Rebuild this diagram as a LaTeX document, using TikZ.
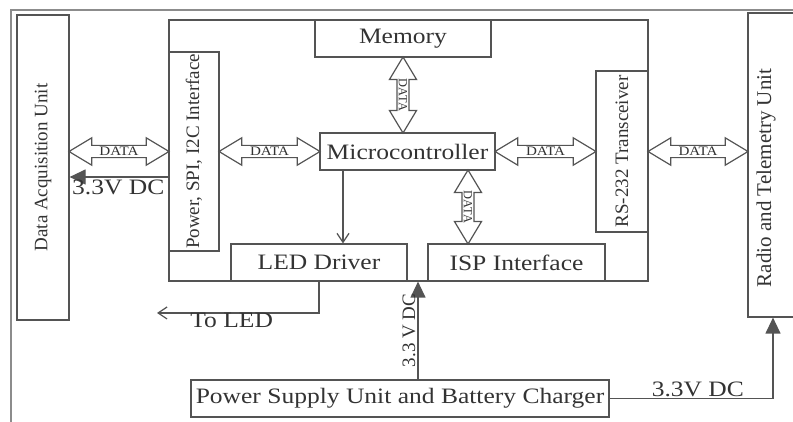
\documentclass[tikz,border=0pt]{standalone}
\usepackage{fontspec}
\setmainfont{Liberation Serif}[FakeStretch=1.16]
\newfontfamily\uprightfont{Liberation Serif}
\usepackage{tikz}
\usetikzlibrary{shapes,shapes.arrows}
\usetikzlibrary{arrows.meta,calc}
\definecolor{linegray}{gray}{0.33}
\definecolor{framegray}{gray}{0.55}
\definecolor{inkgray}{gray}{0.2}
\tikzstyle{blk}=[draw=linegray, line width=0.6pt, text=inkgray, inner sep=1pt, font=\fontsize{11}{13}\selectfont]
\tikzstyle{vblk}=[blk, rotate=90, font=\uprightfont\fontsize{9.5}{11}\selectfont]
\tikzstyle{bus}=[double arrow, draw=linegray, line width=0.6pt, text=inkgray, inner xsep=0.5pt, inner ysep=0.6pt, double arrow head extend=3.8pt, double arrow tip angle=62, font=\fontsize{6.5}{7}\selectfont]
\tikzstyle{vbus}=[bus, rotate=-90, inner xsep=0pt, font=\uprightfont\fontsize{6.2}{7}\selectfont]
\tikzstyle{pwr>}=[draw=linegray, line width=0.6pt, -{Triangle[length=8pt,width=7.5pt]}]
\tikzstyle{sig>}=[draw=linegray, line width=0.6pt, -{Straight Barb[length=4.5pt,width=6pt]}]
\tikzstyle{lbl}=[text=inkgray, inner sep=1pt, font=\fontsize{11}{13}\selectfont]

\begin{document}
\begin{tikzpicture}[x=0.5pt, y=-0.5pt]
\useasboundingbox (0,0) rectangle (793,422);
\clip (0,0) rectangle (793,422);
\draw[framegray, line width=0.8pt] (11,422) |- (793,10);
% boxes (vertical ones are turned: their south side faces right, north faces left)
\node[blk, minimum width=239.5pt, minimum height=130.5pt] (board) at (408.5,150.5) {};
\node[vblk, minimum width=152.5pt, minimum height=26pt] (daq) at (43,167.5) {Data Acquisition Unit};
\node[vblk, minimum width=99.5pt, minimum height=25pt] (psi) at (194,151.5) {Power, SPI, I2C Interface};
\node[blk, minimum width=88pt, minimum height=18.5pt] (mem) at (403,38.5) {Memory};
\node[blk, minimum width=87.5pt, minimum height=18.5pt] (mcu) at (407.5,151.5) {Microcontroller};
\node[vblk, minimum width=80.5pt, minimum height=26pt] (rs) at (622,151.5) {RS-232 Transceiver};
\node[blk, minimum width=88pt, minimum height=18.5pt] (led) at (319,262.5) {LED Driver};
\node[blk, minimum width=88.5pt, minimum height=18.5pt] (isp) at (516.5,262.5) {ISP Interface};
\node[blk, minimum width=209pt, minimum height=18.5pt] (psu) at (400,398.5) {Power Supply Unit and Battery Charger};
\node[vblk, minimum width=152pt, minimum height=26pt] (radio) at (774,165) {};
\node[vblk, draw=none, font=\uprightfont\fontsize{10.5}{12}\selectfont] (radiotxt) at (766,178) {Radio and Telemetry Unit};
% data buses
\path (daq.south |- psi.north) -- node[bus, minimum height=50pt] {DATA} (psi.north);
\path (psi.south) -- node[bus, minimum height=50.5pt] {DATA} (mcu.west);
\path (mcu.east) -- node[bus, minimum height=50.5pt] {DATA} (rs.north);
\path (rs.south) -- node[bus, minimum height=50pt] {DATA} (radio.north |- rs.south);
\path (mem.south) -- node[vbus, minimum height=38pt] {DATA} (mem.south |- mcu.north);
\coordinate (ispbus) at (468,0);
\path (mcu.south -| ispbus) -- node[vbus, minimum height=37pt] {DATA} (isp.north -| ispbus);
% led
\coordinate (ledtap) at (343,0);
\draw[sig>] (mcu.south -| ledtap) -- (led.north -| ledtap);
\coordinate (ledout) at (157,313);
\draw[sig>] (led.south) |- (ledout);
\node[lbl, anchor=north west] (toled) at (188,311) {To LED};
% supply
\coordinate (pwrtap) at (418,0);
\draw[pwr>] (psu.north -| pwrtap) -- node[lbl, rotate=90, anchor=south, font=\uprightfont\fontsize{9.5}{11}\selectfont] {3.3 V DC} (board.south -| pwrtap);
\coordinate (daqpwr) at (0,177);
\draw[pwr>] (psi.north |- daqpwr) -- (daq.south |- daqpwr) node[lbl, anchor=north west] {3.3V DC};
\coordinate (radtap) at (773,0);
\draw[pwr>] (psu.east) -| node[lbl, pos=0.27, anchor=south, inner sep=0.5pt] {3.3V DC} (radio.west -| radtap);
\end{tikzpicture}
\end{document}
